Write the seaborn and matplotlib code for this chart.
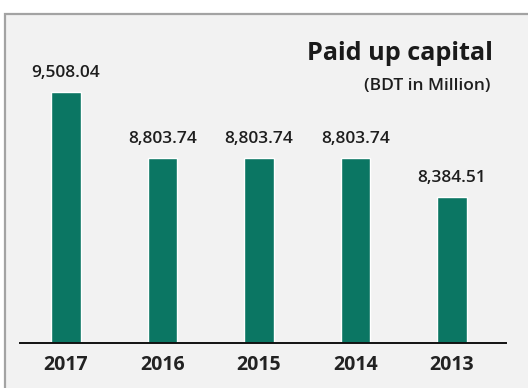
import matplotlib
matplotlib.use("Agg")
import matplotlib.pyplot as plt
from matplotlib.patches import Rectangle
import seaborn as sns
import pandas as pd

years = ["2017", "2016", "2015", "2014", "2013"]
capital = [9508.04, 8803.74, 8803.74, 8803.74, 8384.51]
title = "Paid up capital"
subtitle = "(BDT in Million)"

sns.set_style("white")
plt.rcParams["font.family"] = ["Open Sans", "DejaVu Sans"]

df = pd.DataFrame({"year": years, "capital": capital})

fig = plt.figure(figsize=(5.28, 3.88), dpi=100)
fig.patch.set_facecolor("white")

# light grey panel with a grey frame on the top and left edges
panel = Rectangle((5 / 528, -0.05), 1.2, 0.05 + (388 - 14) / 388,
                  transform=fig.transFigure, facecolor="#f2f2f2",
                  edgecolor="#a3a3a3", linewidth=1.6, zorder=-5)
fig.patches.append(panel)

ax = fig.add_axes([20 / 528, (388 - 343) / 388, 486 / 528, 313 / 388])
ax.set_facecolor("none")
ax.set_zorder(2)

sns.barplot(data=df, x="year", y="capital", color="#0b7663",
            width=0.31, saturation=1, ax=ax)

ax.set_ylim(6821, 10174)
ax.set_xlim(-0.477, 4.56)

for container in ax.containers:
    ax.bar_label(container, labels=[f"{v:,.2f}" for v in capital],
                 padding=8, fontsize=12.5, fontweight="semibold",
                 color="#1e1e1e")

ax.set_xlabel("")
ax.set_ylabel("")
ax.set_yticks([])
for side in ["top", "left", "right"]:
    ax.spines[side].set_visible(False)
ax.spines["bottom"].set_color("#111111")
ax.spines["bottom"].set_linewidth(1.4)
ax.tick_params(axis="x", length=0, pad=9, labelsize=14, labelcolor="#222222")
for lbl in ax.get_xticklabels():
    lbl.set_fontweight("bold")

fig.text(493 / 528, (388 - 53) / 388, title, ha="right", va="center",
         fontsize=18.2, fontweight="bold", color="#1a1a1a")
fig.text(490 / 528, (388 - 86) / 388, subtitle, ha="right", va="center",
         fontsize=12.5, fontweight="semibold", color="#1e1e1e")

fig.savefig("out.png", dpi=100, facecolor="white")
